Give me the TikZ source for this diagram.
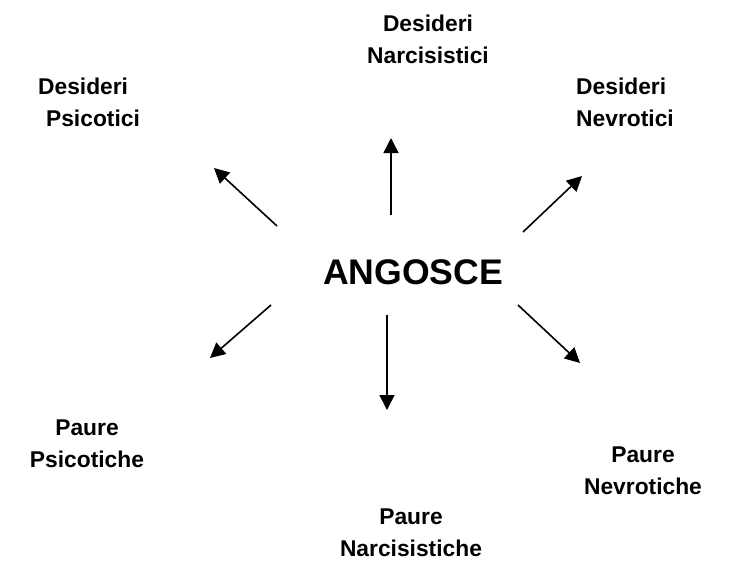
\documentclass[tikz,border=0pt]{standalone}
\usepackage{fontspec}
\setmainfont{Liberation Sans}
\usetikzlibrary{positioning,arrows.meta}

\tikzset{
  lbl/.style={font=\fontsize{11.4}{16}\selectfont\bfseries,align=center,inner sep=0pt},
  arr/.style={->,line width=0.8pt}
}

\begin{document}
\begin{tikzpicture}[>={Triangle[length=7.5pt,width=7.5pt]}, x=0.5pt, y=-0.5pt]
    \useasboundingbox (0,0) rectangle (729,563);
    \node[font=\fontsize{17.8}{22}\selectfont\bfseries,inner sep=0pt] (ang) at (413,272) {ANGOSCE};
    % desideri
    \node[lbl] (dnar) at (428,39) {Desideri\\Narcisistici};
    \node[lbl,align=left] (dpsi) at (89,102) {Desideri\\\hspace{4pt}Psicotici};
    \node[lbl,align=left] (dnev) at (625,102) {Desideri\\Nevrotici};
    % paure
    \node[lbl] (ppsi) at (87,444) {Paure\\Psicotiche};
    \node[lbl] (pnar) at (411,533) {Paure\\Narcisistiche};
    \node[lbl] (pnev) at (643,471) {Paure\\Nevrotiche};
    % arrow ends
    \coordinate (a1) at (391,215); \coordinate (b1) at (391,138);
    \coordinate (a2) at (277,226); \coordinate (b2) at (214,168);
    \coordinate (a3) at (523,232); \coordinate (b3) at (582,176);
    \coordinate (a4) at (387,315); \coordinate (b4) at (387,410);
    \coordinate (a5) at (271,305); \coordinate (b5) at (210,358);
    \coordinate (a6) at (518,305); \coordinate (b6) at (580,363);
    \foreach \i in {1,...,6}
        \draw[arr] (a\i) -- (b\i);
\end{tikzpicture}
\end{document}
